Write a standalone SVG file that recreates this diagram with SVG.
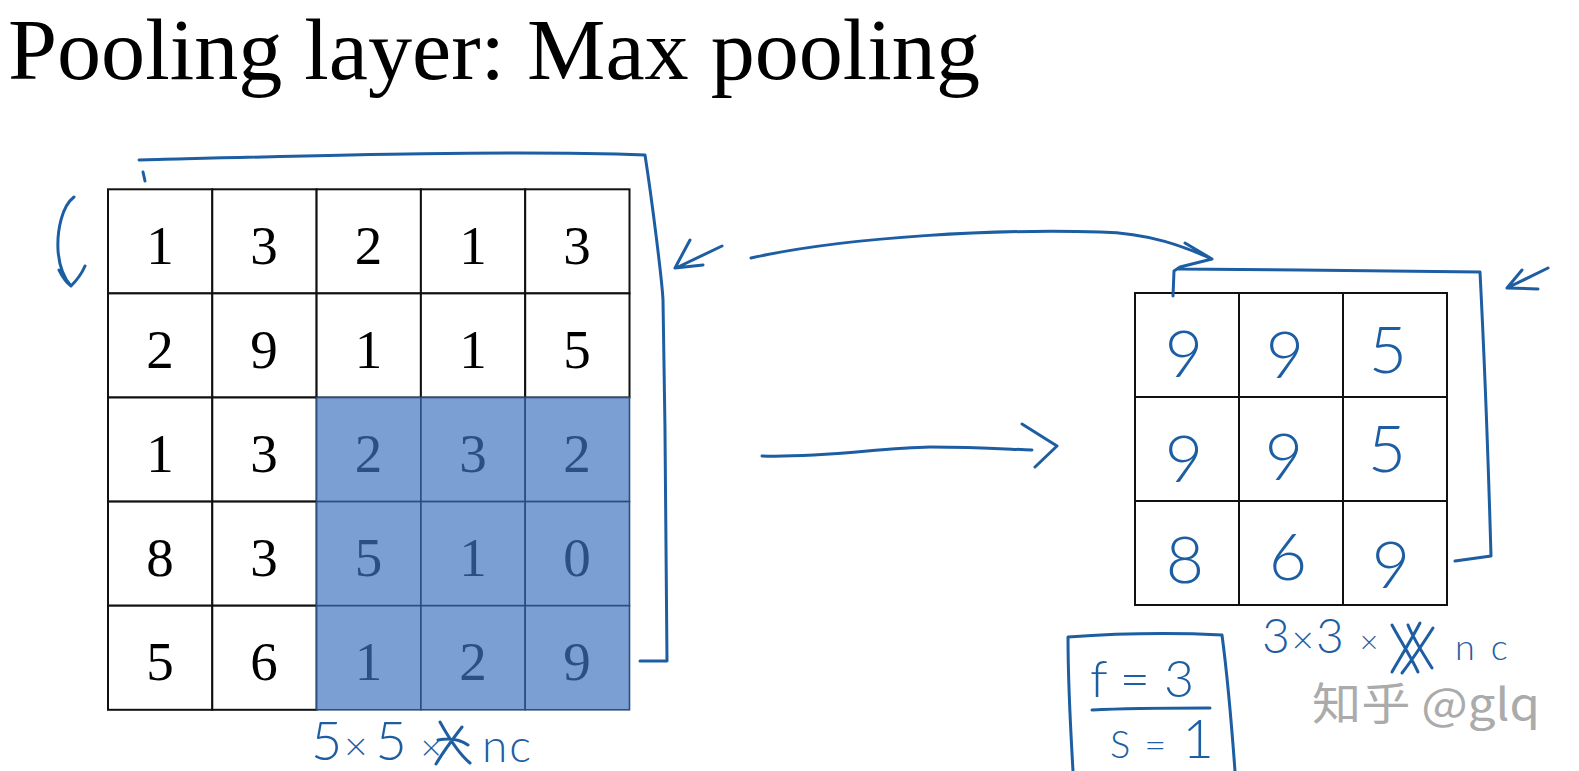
<svg xmlns="http://www.w3.org/2000/svg" width="1579" height="771" viewBox="0 0 1579 771">
<style>
.title{font-family:"Liberation Serif","Times New Roman",serif;font-size:86px;fill:#000}
.c{fill:#fff;stroke:#111;stroke-width:2}
.cb{fill:#7b9fd3;stroke:#2d4d7e;stroke-width:1.6}
.n{font-family:"Liberation Serif",serif;font-size:55px;fill:#000;text-anchor:middle}
.nb{font-family:"Liberation Serif",serif;font-size:55px;fill:#2c4e84;text-anchor:middle}
.hw{font-family:"Lato","Roboto","DejaVu Sans",sans-serif;font-weight:300;fill:#1d5ea3}
.hd{font-size:66px;text-anchor:middle}
.ink{fill:none;stroke:#1d5ea3;stroke-width:3;stroke-linecap:round;stroke-linejoin:round}
.wm{font-family:"Noto Sans CJK SC","Noto Sans",sans-serif;font-size:44px;fill:#ababab}
</style>
<rect width="1579" height="771" fill="#fff"/>
<text id="title" class="title" x="8" y="79" textLength="972" lengthAdjust="spacingAndGlyphs">Pooling layer: Max pooling</text>

<g id="input-grid">
<rect class="c" x="108" y="189.3" width="104.3" height="104.1"/>
<rect class="c" x="212.3" y="189.3" width="104.3" height="104.1"/>
<rect class="c" x="316.6" y="189.3" width="104.3" height="104.1"/>
<rect class="c" x="420.9" y="189.3" width="104.3" height="104.1"/>
<rect class="c" x="525.2" y="189.3" width="104.3" height="104.1"/>
<rect class="c" x="108" y="293.4" width="104.3" height="104.1"/>
<rect class="c" x="212.3" y="293.4" width="104.3" height="104.1"/>
<rect class="c" x="316.6" y="293.4" width="104.3" height="104.1"/>
<rect class="c" x="420.9" y="293.4" width="104.3" height="104.1"/>
<rect class="c" x="525.2" y="293.4" width="104.3" height="104.1"/>
<rect class="c" x="108" y="397.5" width="104.3" height="104.1"/>
<rect class="c" x="212.3" y="397.5" width="104.3" height="104.1"/>
<rect class="c" x="108" y="501.6" width="104.3" height="104.1"/>
<rect class="c" x="212.3" y="501.6" width="104.3" height="104.1"/>
<rect class="c" x="108" y="605.7" width="104.3" height="104.1"/>
<rect class="c" x="212.3" y="605.7" width="104.3" height="104.1"/>
<rect class="cb" x="316.6" y="397.5" width="104.3" height="104.1"/>
<rect class="cb" x="420.9" y="397.5" width="104.3" height="104.1"/>
<rect class="cb" x="525.2" y="397.5" width="104.3" height="104.1"/>
<rect class="cb" x="316.6" y="501.6" width="104.3" height="104.1"/>
<rect class="cb" x="420.9" y="501.6" width="104.3" height="104.1"/>
<rect class="cb" x="525.2" y="501.6" width="104.3" height="104.1"/>
<rect class="cb" x="316.6" y="605.7" width="104.3" height="104.1"/>
<rect class="cb" x="420.9" y="605.7" width="104.3" height="104.1"/>
<rect class="cb" x="525.2" y="605.7" width="104.3" height="104.1"/>
<text class="n" x="160" y="264">1</text><text class="n" x="264" y="264">3</text><text class="n" x="368.5" y="264">2</text><text class="n" x="473" y="264">1</text><text class="n" x="577" y="264">3</text>
<text class="n" x="160" y="368">2</text><text class="n" x="264" y="368">9</text><text class="n" x="368.5" y="368">1</text><text class="n" x="473" y="368">1</text><text class="n" x="577" y="368">5</text>
<text class="n" x="160" y="472">1</text><text class="n" x="264" y="472">3</text><text class="nb" x="368.5" y="472">2</text><text class="nb" x="473" y="472">3</text><text class="nb" x="577" y="472">2</text>
<text class="n" x="160" y="576">8</text><text class="n" x="264" y="576">3</text><text class="nb" x="368.5" y="576">5</text><text class="nb" x="473" y="576">1</text><text class="nb" x="577" y="576">0</text>
<text class="n" x="160" y="680">5</text><text class="n" x="264" y="680">6</text><text class="nb" x="368.5" y="680">1</text><text class="nb" x="473" y="680">2</text><text class="nb" x="577" y="680">9</text>
</g>

<g id="output-grid">
<rect class="c" x="1135" y="293" width="104" height="104"/>
<rect class="c" x="1239" y="293" width="104" height="104"/>
<rect class="c" x="1343" y="293" width="104" height="104"/>
<rect class="c" x="1135" y="397" width="104" height="104"/>
<rect class="c" x="1239" y="397" width="104" height="104"/>
<rect class="c" x="1343" y="397" width="104" height="104"/>
<rect class="c" x="1135" y="501" width="104" height="104"/>
<rect class="c" x="1239" y="501" width="104" height="104"/>
<rect class="c" x="1343" y="501" width="104" height="104"/>
<g class="hw hd">
<text x="1184" y="377">9</text><text x="1285" y="378">9</text><text x="1388" y="373">5</text>
<text x="1184" y="482">9</text><text x="1284" y="480">9</text><text x="1387" y="472">5</text>
<text x="1185" y="583">8</text><text x="1288" y="580">6</text><text x="1391" y="588">9</text>
</g>
</g>

<g id="connectors">
<path class="ink" d="M139,160 C300,156 500,150 645,155 C652,200 662,280 663,300 C665,420 667,560 667,661 L640,661"/>
<path class="ink" d="M143,172 L145,181"/>
<path class="ink" d="M74,197 C62,206 57,230 58,250 C59,266 64,278 71,286 M59,270 C63,278 67,283 71,286 C77,280 82,273 85,266"/>
<path class="ink" d="M722,246 L676,268 M690,240 L675,268 L703,265"/>
<path class="ink" d="M751,258 C850,236 1000,229 1100,232 C1150,233 1185,247 1212,259 M1185,243 L1212,259 L1180,267 L1174,271 L1173,296 M1178,269 L1300,270 L1480,272 C1484,350 1488,450 1491,556 L1455,561"/>
<path class="ink" d="M1548,268 L1507,288 M1522,270 L1507,288 L1538,289"/>
<path class="ink" d="M762,456 C820,458 880,448 930,447 C975,447 1005,449 1032,450 M1022,424 L1057,446 L1035,467"/>
</g>

<g id="label-input" class="hw">
<text x="311" y="760" font-size="54">5<tspan dx="2" font-size="40">×</tspan><tspan dx="8">5</tspan><tspan dx="14" font-size="36">×</tspan></text>
<path class="ink" d="M440,722 C450,740 460,755 470,763 M462,727 C452,740 443,752 436,764 M438,740 C448,738 458,738 468,745"/>
<text x="482" y="762" font-size="46">n<tspan dx="2">c</tspan></text>
</g>

<g id="label-output" class="hw">
<text x="1262" y="653" font-size="48">3<tspan dx="2" font-size="38">×</tspan><tspan dx="2">3</tspan><tspan dx="16" font-size="32">×</tspan></text>
<path class="ink" d="M1392,625 C1400,640 1410,655 1418,672 M1408,625 C1414,640 1424,655 1432,668 M1420,623 C1410,642 1400,658 1392,672 M1433,628 C1422,645 1412,660 1402,673"/>
<text x="1455" y="660" font-size="36">n<tspan dx="16">c</tspan></text>
</g>

<g id="params">
<path class="ink" d="M1073,771 C1070,720 1068,670 1068,637 C1110,634 1160,632 1222,635 C1228,680 1232,730 1235,771"/>
<path class="ink" d="M1092,710 C1130,708 1170,708 1210,708"/>
<text class="hw" x="1090" y="697" font-size="52">f<tspan dx="12">=</tspan><tspan dx="14">3</tspan></text>
<text class="hw" x="1110" y="758" font-size="38">S<tspan dx="14">=</tspan><tspan dx="16" font-size="54">1</tspan></text>
</g>

<text id="watermark" class="wm" x="1312" y="720" textLength="228" lengthAdjust="spacingAndGlyphs">知乎 @glq</text>
</svg>
